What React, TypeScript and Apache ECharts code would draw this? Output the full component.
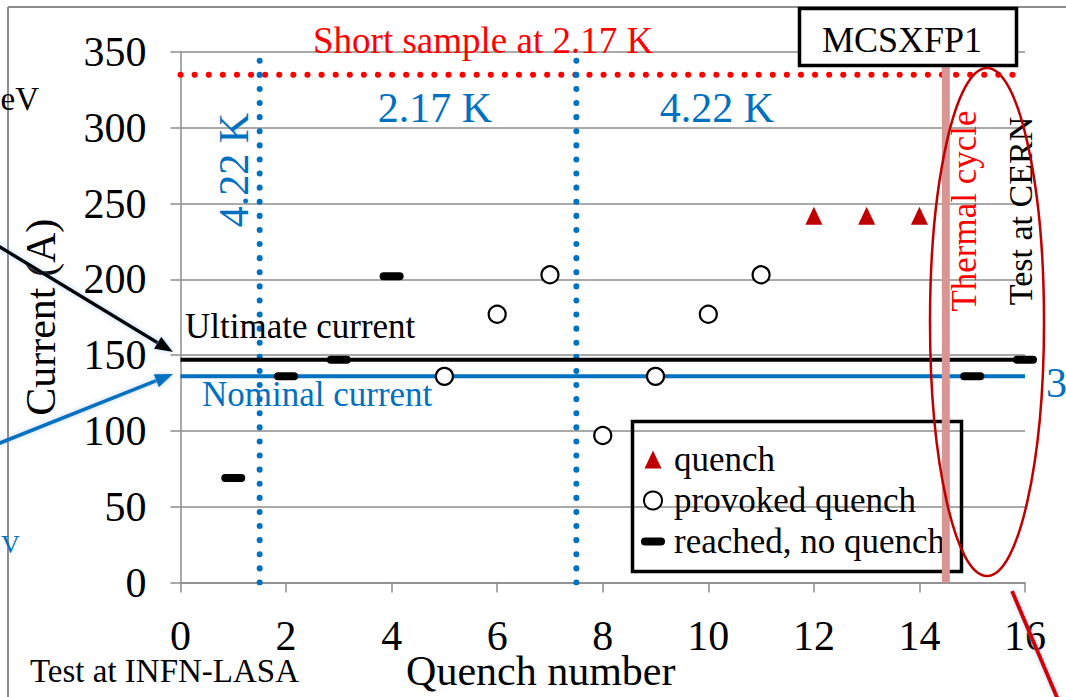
import React, { useEffect, useRef } from 'react';
import * as echarts from 'echarts';

// Quench test record of the MCSXFP1 corrector magnet
const quenchNumbers = [12, 13, 14];
const quenchCurrents = [242, 242, 242];

const provokedNumbers = [5, 6, 7, 8, 9, 10, 11];
const provokedCurrents = [136, 177, 203, 97, 136, 177, 203];

const reachedNumbers = [1, 2, 3, 4, 15, 16];
const reachedCurrents = [69, 136, 147, 202, 136, 147];

const ultimateCurrent = 147;
const nominalCurrent = 136;
const shortSampleCurrent = 335;
const temperatureBreaks = [1.5, 7.5];
const breakTop = 345;
const thermalCycleAt = 14.5;
const thermalTop = 340;

const xMin = 0;
const xMax = 16;
const xStep = 2;
const yMin = 0;
const yMax = 350;
const yStep = 50;

const seriesNames = ['quench', 'provoked quench', 'reached, no quench'];

const serif = "'Liberation Serif', 'Times New Roman', Times, serif";
const gray = '#8c8c8c';
const blue = '#0070C0';
const darkRed = '#C00000';
const red = '#FF0000';

const dashPath = 'path://M4,0H20A4,4,0,0,1,20,8H4A4,4,0,0,1,4,0Z';
const trianglePath = 'path://M8.5,0L17,18H0Z';

const pairs = (xs: number[], ys: number[]) => xs.map((x, i) => [x, ys[i]]);

function txt(
  text: string,
  x: number,
  y: number,
  size: number,
  color: string,
  align: 'left' | 'center' | 'right' = 'left',
  rotation = 0,
  lineHeight?: number
) {
  return {
    type: 'text',
    x,
    y,
    rotation,
    z: 100,
    silent: true,
    style: {
      text,
      fill: color,
      fontFamily: serif,
      fontSize: size,
      lineHeight,
      align,
      verticalAlign: 'middle',
    },
  };
}

function arrow(x0: number, y0: number, x1: number, y1: number, color: string) {
  const dx = x1 - x0;
  const dy = y1 - y0;
  const len = Math.hypot(dx, dy);
  const ux = dx / len;
  const uy = dy / len;
  const headLen = 18;
  const headHalf = 7;
  const bx = x1 - ux * headLen;
  const by = y1 - uy * headLen;
  const px = -uy * headHalf;
  const py = ux * headHalf;
  const glow = { shadowBlur: 5, shadowColor: 'rgba(120,170,230,0.55)' };
  return [
    {
      type: 'line',
      z: 100,
      silent: true,
      shape: { x1: x0, y1: y0, x2: bx, y2: by },
      style: { stroke: color, lineWidth: 3.5, ...glow },
    },
    {
      type: 'polygon',
      z: 100,
      silent: true,
      shape: { points: [[x1, y1], [bx + px, by + py], [bx - px, by - py]] },
      style: { fill: color, ...glow },
    },
  ];
}

function buildOption() {
  const refLine = (
    data: number[][],
    color: string,
    width: number,
    type: any = 'solid',
    z = 3
  ) => ({
    type: 'line',
    data,
    symbol: 'none',
    silent: true,
    z,
    animation: false,
    lineStyle: { color, width, type, cap: type === 'solid' ? 'butt' : 'round' },
    emphasis: { disabled: true },
    tooltip: { show: false },
  });

  const dotted = [0.1, 14];

  const series: any[] = [
    refLine([[xMin, shortSampleCurrent], [xMax, shortSampleCurrent]], red, 6, dotted, 3),
    ...temperatureBreaks.map((b) => refLine([[b, yMin], [b, breakTop]], blue, 6, dotted, 3)),
    refLine([[xMin, ultimateCurrent], [xMax, ultimateCurrent]], '#000', 4, 'solid', 4),
    refLine([[xMin, nominalCurrent], [xMax, nominalCurrent]], blue, 4, 'solid', 4),
    refLine([[thermalCycleAt, yMin], [thermalCycleAt, thermalTop]], '#D99594', 8, 'solid', 6),
    {
      name: seriesNames[0],
      type: 'scatter',
      data: pairs(quenchNumbers, quenchCurrents),
      symbol: 'triangle',
      symbolSize: [17, 18],
      itemStyle: { color: darkRed, opacity: 1 },
      emphasis: { disabled: true },
      z: 8,
    },
    {
      name: seriesNames[1],
      type: 'scatter',
      data: pairs(provokedNumbers, provokedCurrents),
      symbol: 'circle',
      symbolSize: 17,
      itemStyle: { color: '#fff', borderColor: '#000', borderWidth: 2.2, opacity: 1 },
      emphasis: { disabled: true },
      z: 8,
    },
    {
      name: seriesNames[2],
      type: 'scatter',
      data: pairs(reachedNumbers, reachedCurrents),
      symbol: dashPath,
      symbolSize: [24, 8],
      itemStyle: { color: '#000', opacity: 1 },
      emphasis: { disabled: true },
      z: 8,
    },
  ];

  const graphic: any[] = [
    // frame of the surrounding panel
    { type: 'line', z: 100, silent: true, shape: { x1: 8, y1: 7, x2: 1066, y2: 7 }, style: { stroke: gray, lineWidth: 2 } },
    { type: 'line', z: 100, silent: true, shape: { x1: 8, y1: 7, x2: 8, y2: 697 }, style: { stroke: gray, lineWidth: 2 } },
    txt('eV', 39, 99, 33, '#000', 'right'),
    txt('V', 1, 544, 26, blue, 'left'),
    txt('3', 1046, 383, 42, blue, 'left'),
    ...arrow(-5, 244, 173, 352, '#000'),
    ...arrow(-5, 445, 173, 374, blue),
    txt('Short sample at 2.17 K', 313, 40.5, 37, red),
    txt('2.17 K', 435, 108, 42, blue, 'center'),
    txt('4.22 K', 717, 108, 42, blue, 'center'),
    txt('4.22 K', 234, 170, 42, blue, 'center', Math.PI / 2),
    txt('Ultimate current', 185, 326.5, 35, '#000'),
    txt('Nominal current', 202, 394.5, 35, blue),
    txt('Thermal cycle', 964, 211, 35, red, 'center', Math.PI / 2),
    txt('Test at CERN', 1020, 211, 34, '#000', 'center', Math.PI / 2),
    txt('Test at INFN-LASA', 30, 671, 33, '#000', 'left', 0, 26),
    // legend frame
    {
      type: 'rect',
      z: 1,
      silent: true,
      shape: { x: 632.5, y: 421.5, width: 329, height: 150 },
      style: { fill: 'none', stroke: '#000', lineWidth: 3.5 },
    },
    // magnet name box
    {
      type: 'rect',
      z: 100,
      silent: true,
      shape: { x: 799.5, y: 8.5, width: 217, height: 57 },
      style: { fill: '#fff', stroke: '#000', lineWidth: 3.5 },
    },
    txt('MCSXFP1', 902, 40, 36, '#000', 'center'),
    // highlight around the CERN test
    {
      type: 'ellipse',
      z: 101,
      silent: true,
      shape: { cx: 987, cy: 322, rx: 57, ry: 254 },
      style: { fill: 'none', stroke: darkRed, lineWidth: 2.5 },
    },
    {
      type: 'line',
      z: 101,
      silent: true,
      shape: { x1: 1012, y1: 591, x2: 1067, y2: 721 },
      style: { stroke: '#D40000', lineWidth: 4, shadowBlur: 4, shadowColor: 'rgba(120,170,230,0.6)' },
    },
  ];

  return {
    animation: false,
    backgroundColor: '#fff',
    grid: {
      left: 180.5,
      right: 41,
      top: 52,
      bottom: 114.5,
      containLabel: false,
      outerBoundsMode: 'none',
    },
    xAxis: {
      type: 'value',
      min: xMin,
      max: xMax,
      interval: xStep,
      name: 'Quench number',
      nameLocation: 'middle',
      nameGap: 71,
      nameMoveOverlap: false,
      nameTextStyle: {
        fontFamily: serif,
        fontSize: 42,
        lineHeight: 34,
        color: '#000',
        padding: [0, 124, 0, 0],
      },
      axisLine: { show: true, onZero: false, lineStyle: { color: gray, width: 1.5 } },
      axisTick: { show: true, length: 10, lineStyle: { color: gray, width: 1.5 } },
      axisLabel: { fontFamily: serif, fontSize: 42, lineHeight: 30, color: '#000', margin: 38 },
      splitLine: { show: false },
    },
    yAxis: {
      type: 'value',
      min: yMin,
      max: yMax,
      interval: yStep,
      name: 'Current (A)',
      nameLocation: 'middle',
      nameGap: 119,
      nameRotate: 90,
      nameMoveOverlap: false,
      nameTextStyle: { fontFamily: serif, fontSize: 42, color: '#000' },
      axisLine: { show: true, lineStyle: { color: gray, width: 1.5 } },
      axisTick: { show: true, length: 10, lineStyle: { color: gray, width: 1.5 } },
      axisLabel: { fontFamily: serif, fontSize: 42, color: '#000', margin: 34 },
      splitLine: { show: true, lineStyle: { color: gray, width: 1.5 } },
    },
    legend: {
      orient: 'vertical',
      left: 641,
      top: 442,
      padding: 0,
      itemGap: 6,
      itemWidth: 24,
      itemHeight: 18,
      symbolKeepAspect: true,
      selectedMode: false,
      textStyle: { fontFamily: serif, fontSize: 35, color: '#000', padding: [0, 0, 0, 4] },
      data: [
        { name: seriesNames[0], icon: trianglePath },
        { name: seriesNames[1], icon: 'circle' },
        { name: seriesNames[2], icon: dashPath },
      ],
    },
    series,
    graphic,
  };
}

export default function App() {
  const ref = useRef<HTMLDivElement>(null);
  useEffect(() => {
    if (!ref.current) return;
    const chart = echarts.init(ref.current, null, { renderer: 'svg' });
    chart.setOption(buildOption() as any);
    return () => chart.dispose();
  }, []);
  return (
    <div
      ref={ref}
      style={{ position: 'fixed', left: 0, top: 0, width: 1066, height: 697, background: '#fff' }}
    />
  );
}
